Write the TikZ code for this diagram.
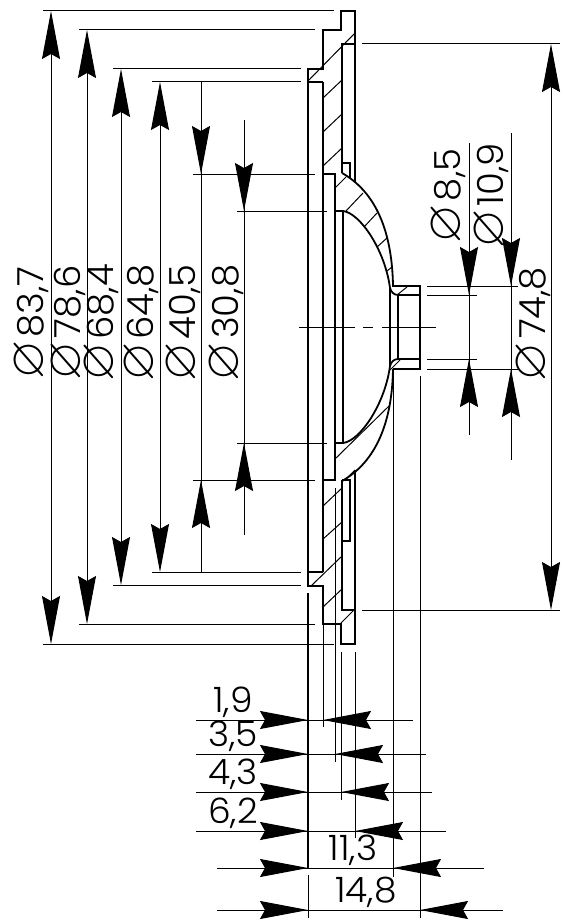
\documentclass[tikz,border=0pt]{standalone}
\usepackage{amssymb}
\usepackage{fontspec}
\setmainfont[FakeStretch=1.03]{Poppins Light}
\usetikzlibrary{arrows.meta}
\newcommand{\dia}{\scalebox{1.4}{$\varnothing$}\hspace{1.5pt}}
\tikzset{
  outline/.style={line width=0.9pt},
  hatch/.style={line width=0.5pt},
  thinline/.style={line width=0.5pt},
  dimtip/.style={line width=0.5pt,-{Stealth[length=24pt,width=9pt,inset=2.5pt]}},
  dimboth/.style={line width=0.5pt,{Stealth[length=24pt,width=9pt,inset=2.5pt]}-{Stealth[length=24pt,width=9pt,inset=2.5pt]}},
  dimtext/.style={inner sep=0pt,anchor=base,font=\fontsize{17.5}{17.5}\selectfont},
  dimrot/.style={inner sep=0pt,anchor=base,rotate=90,font=\fontsize{18}{18}\selectfont},
}
\begin{document}
\begin{tikzpicture}[x=0.5pt,y=0.5pt,yscale=-1,xscale=1]
\useasboundingbox (0,0) rectangle (563,920);

%Flange upper half
\draw [outline] (355,182) -- (355,11) -- (341,11) -- (341,30) -- (323,30) -- (323,69) -- (308,69) -- (308,82) -- (323,82) ;
%Flange lower half
\draw [outline] (323,572) -- (308,572) -- (308,586) -- (323,586) -- (323,624) -- (341,624) -- (341,644) -- (355,644) -- (355,470) ;
%Long walls
\draw [outline] (308,82) -- (308,572) ;
\draw [outline] (323,82) -- (323,572) ;
\draw [outline] (355,44) -- (342,44) -- (342,173) ;
\draw [outline] (355,610) -- (342,610) -- (342,480) ;
\draw [outline] (323,174) -- (335,174) -- (335,480) -- (323,480) ;
\draw [outline] (335,211) -- (343,211) -- (343,443) -- (335,443) ;
%Small notches
\draw [outline] (342,163) -- (350,163) -- (350,178) ;
\draw [outline] (342,480) -- (350,480) -- (350,541) -- (342,541) ;

%Dome, outer
\draw [outline] (342,173) .. controls (372,190) and (392,225) .. (393,286) -- (420,286) -- (420,369) -- (393,369) ;
\draw [outline] (393,369) .. controls (392,429) and (372,464) .. (342,481) ;
%Dome, inner
\draw [outline] (343,211) .. controls (360,213) and (385,250) .. (390,288) .. controls (391,292) and (394,295) .. (398,295) -- (420,295) ;
\draw [outline] (343,443) .. controls (360,441) and (385,404) .. (390,366) .. controls (391,362) and (394,359) .. (398,359) -- (420,359) ;
\draw [outline] (390,288) -- (390,366) ;
\draw [outline] (398,295) -- (398,359) ;

%Hatching
\draw [hatch] (355,33) -- (308,81) ;
\draw [hatch] (342,80) -- (323,98) ;
\draw [hatch] (342,114) -- (323,132) ;
\draw [hatch] (342,148) -- (323,166) ;
\draw [hatch] (346,177) -- (335,188) ;
\draw [hatch] (363,193) -- (346,211) ;
\draw [hatch] (377,213) -- (364,227) ;
\draw [hatch] (387,238) -- (377,247) ;
\draw [hatch] (392,267) -- (387,271) ;
\draw [hatch] (407,287) -- (397,295) ;
\draw [hatch] (400,360) -- (390,370) ;
\draw [hatch] (389,406) -- (335,459) ;
\draw [hatch] (355,470) -- (345,480) ;
\draw [hatch] (342,488) -- (323,506) ;
\draw [hatch] (342,522) -- (323,539) ;
\draw [hatch] (342,556) -- (311,586) ;
\draw [hatch] (342,589) -- (323,607) ;
\draw [hatch] (354,610) -- (340,624) ;

%Centre line
\draw [thinline] (299,327) -- (355,327) ;
\draw [thinline] (363,327) -- (373,327) ;
\draw [thinline] (382,327) -- (436,327) ;

%Extension lines, left
\draw [thinline] (43,11) -- (334,11) ;
\draw [thinline] (79,30) -- (315,30) ;
\draw [thinline] (113,69) -- (301,69) ;
\draw [thinline] (152,82) -- (301,82) ;
\draw [thinline] (193,174) -- (315,174) ;
\draw [thinline] (237,211) -- (327,211) ;
\draw [thinline] (237,443) -- (327,443) ;
\draw [thinline] (193,480) -- (315,480) ;
\draw [thinline] (152,572) -- (301,572) ;
\draw [thinline] (113,585) -- (301,585) ;
\draw [thinline] (79,624) -- (315,624) ;
\draw [thinline] (43,644) -- (334,644) ;
%Extension lines, right
\draw [thinline] (362,44) -- (560,44) ;
\draw [thinline] (362,610) -- (560,610) ;
\draw [thinline] (427,286) -- (518,286) ;
\draw [thinline] (427,295) -- (477,295) ;
\draw [thinline] (427,359) -- (477,359) ;
\draw [thinline] (427,369) -- (518,369) ;
%Extension lines, bottom
\draw [outline] (308,593) -- (308,868) ;
\draw [thinline] (308,875) -- (308,918) ;
\draw [thinline] (323,624) -- (323,727) ;
\draw [thinline] (335,488) -- (335,762) ;
\draw [thinline] (341,652) -- (341,800) ;
\draw [thinline] (355,652) -- (355,838) ;
\draw [thinline] (393,369) -- (393,877) ;
\draw [thinline] (420,376) -- (420,918) ;

%Dimensions, vertical
\draw [dimboth] (51,11) -- (51,644) ;
\draw [dimboth] (87,30) -- (87,624) ;
\draw [dimboth] (121,69) -- (121,585) ;
\draw [dimboth] (160,82) -- (160,572) ;
\draw [dimboth] (551,44) -- (551,610) ;
\draw [thinline] (201,82) -- (201,572) ;
\draw [dimtip] (201,125) -- (201,174) ;
\draw [dimtip] (201,529) -- (201,480) ;
\draw [thinline] (244,120) -- (244,535) ;
\draw [dimtip] (244,162) -- (244,211) ;
\draw [dimtip] (244,492) -- (244,443) ;
\draw [thinline] (469,143) -- (469,435) ;
\draw [dimtip] (469,246) -- (469,295) ;
\draw [dimtip] (469,408) -- (469,359) ;
\draw [thinline] (511,133) -- (511,460) ;
\draw [dimtip] (511,237) -- (511,286) ;
\draw [dimtip] (511,418) -- (511,369) ;

%Dimensions, horizontal
\draw [thinline] (196,720) -- (413,720) ;
\draw [dimtip] (259,720) -- (308,720) ;
\draw [dimtip] (372,720) -- (323,720) ;
\draw [thinline] (196,754) -- (426,754) ;
\draw [dimtip] (259,754) -- (308,754) ;
\draw [dimtip] (384,754) -- (335,754) ;
\draw [thinline] (196,792) -- (432,792) ;
\draw [dimtip] (259,792) -- (308,792) ;
\draw [dimtip] (390,792) -- (341,792) ;
\draw [thinline] (196,831) -- (446,831) ;
\draw [dimtip] (259,831) -- (308,831) ;
\draw [dimtip] (404,831) -- (355,831) ;
\draw [thinline] (217,868) -- (484,868) ;
\draw [dimtip] (259,868) -- (308,868) ;
\draw [dimtip] (442,868) -- (393,868) ;
\draw [thinline] (217,910) -- (503,910) ;
\draw [dimtip] (259,910) -- (308,910) ;
\draw [dimtip] (469,910) -- (420,910) ;

% Text Node
\node [dimrot] (dia837) at (43,323) {\dia 83,7};
\node [dimrot] (dia786) at (80,323) {\dia 78,6};
\node [dimrot] (dia684) at (113,323) {\dia 68,4};
\node [dimrot] (dia648) at (153,323) {\dia 64,8};
\node [dimrot] (dia405) at (195,323) {\dia 40,5};
\node [dimrot] (dia308) at (238,323) {\dia 30,8};
\node [dimrot] (dia85) at (460,196) {\dia 8,5};
\node [dimrot] (dia109) at (503,196) {\dia 10,9};
\node [dimrot] (dia748) at (545,324) {\dia 74,8};
% Text Node
\node [dimtext] (len19) at (233,712) {1,9};
\node [dimtext] (len35) at (233,746) {3,5};
\node [dimtext] (len43) at (233,784) {4,3};
\node [dimtext] (len62) at (233,823) {6,2};
\node [dimtext] (len113) at (353,860) {11,3};
\node [dimtext] (len148) at (366,902) {14,8};

\end{tikzpicture}
\end{document}
